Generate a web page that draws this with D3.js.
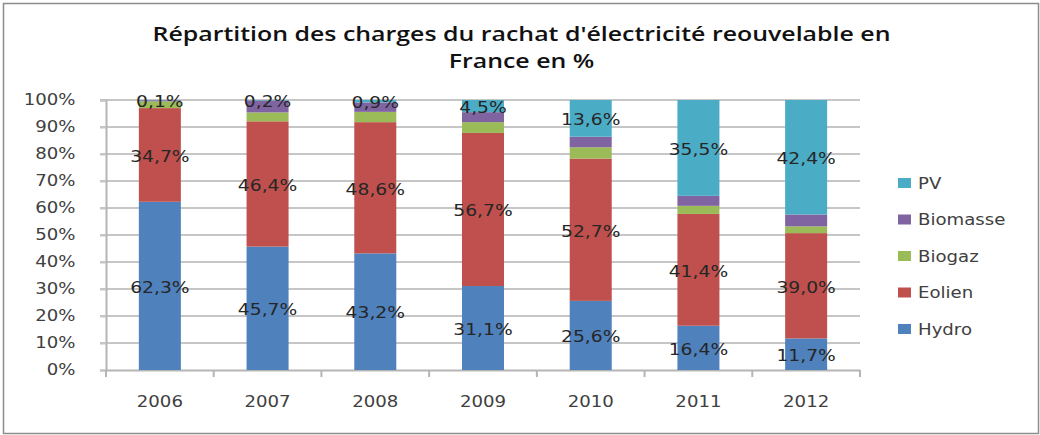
<!DOCTYPE html>
<html>
<head>
<meta charset="utf-8">
<script src="https://cdn.jsdelivr.net/npm/d3@7"></script>
<style>
  body { margin: 0; background: #fff; }
  svg { display: block; }
</style>
</head>
<body>
<div id="chart"></div>
<script>
// data, in % of total charges per year
const years = ['2006', '2007', '2008', '2009', '2010', '2011', '2012'];
const seriesNames = ['Hydro', 'Eolien', 'Biogaz', 'Biomasse', 'PV'];
const hydro    = [62.3, 45.7, 43.2, 31.1, 25.6, 16.4, 11.7];
const eolien   = [34.7, 46.4, 48.6, 56.7, 52.7, 41.4, 39.0];
const biogaz   = [2.5, 3.3, 3.8, 4.0, 4.2, 3.0, 2.5];
const biomasse = [0.4, 4.4, 3.5, 3.7, 3.9, 3.7, 4.4];
const pv       = [0.1, 0.2, 0.9, 4.5, 13.6, 35.5, 42.4];
const yTicks = [0, 10, 20, 30, 40, 50, 60, 70, 80, 90, 100];
// only these series carry a value label
const labelled = ['Hydro', 'Eolien', 'PV'];

const colors = {
  Hydro: '#4f81bd',
  Eolien: '#c0504d',
  Biogaz: '#9bbb59',
  Biomasse: '#8064a2',
  PV: '#4bacc6'
};

const width = 1040, height = 435;
const plot = { left: 106, right: 860, top: 100, bottom: 370 };
const textFont = "'DejaVu Sans', Verdana, sans-serif";
const stretch = 1.17; // the source text is a bit wider than the font

const svg = d3.select('#chart').append('svg')
  .attr('width', width)
  .attr('height', height)
  .attr('viewBox', `0 0 ${width} ${height}`);

// outer frame
svg.append('rect')
  .attr('x', 3.5).attr('y', 3.5)
  .attr('width', 1035).attr('height', 430)
  .attr('fill', '#fff')
  .attr('stroke', '#8c8c8c')
  .attr('stroke-width', 1.5);

// title
const titleLines = ["Répartition des charges du rachat d'électricité reouvelable en", 'France en %'];
const titleTexts = svg.append('g').selectAll('text')
  .data(titleLines)
  .join('text')
  .attr('text-anchor', 'middle')
  .attr('font-family', "'Open Sans', 'Liberation Sans', sans-serif")
  .attr('font-weight', 600)
  .attr('font-size', '20px')
  .attr('fill', '#111')
  .text(d => d);
const natural = titleTexts.node().getComputedTextLength();
const titleScale = 738 / natural;
titleTexts.attr('transform', (d, i) => `translate(521.5, ${41 + i * 27}) scale(${titleScale}, 1)`);

// rows for stacking
const rows = years.map((y, i) => ({
  year: y,
  Hydro: hydro[i],
  Eolien: eolien[i],
  Biogaz: biogaz[i],
  Biomasse: biomasse[i],
  PV: pv[i]
}));
const stacked = d3.stack().keys(seriesNames)(rows);

const x = d3.scaleBand()
  .domain(years)
  .range([plot.left, plot.right])
  .paddingInner(0.61)
  .paddingOuter(0.305);

const y = d3.scaleLinear()
  .domain([0, 100])
  .range([plot.bottom, plot.top]);

// grid lines
svg.append('g')
  .selectAll('line')
  .data(yTicks.filter(d => d > 0))
  .join('line')
  .attr('x1', plot.left - 6)
  .attr('x2', plot.right)
  .attr('y1', d => y(d))
  .attr('y2', d => y(d))
  .attr('stroke', '#c6c6c6')
  .attr('stroke-width', 2);

// y axis
const yAxis = svg.append('g')
  .attr('transform', `translate(${plot.left}, 0)`)
  .call(d3.axisLeft(y).tickValues(yTicks).tickFormat(d => d + '%').tickSize(6).tickPadding(20));
yAxis.select('.domain').attr('stroke', '#b5b5b5').attr('stroke-width', 2);
yAxis.selectAll('.tick line').attr('stroke', '#c6c6c6').attr('stroke-width', 2);
yAxis.selectAll('.tick text')
  .attr('font-family', textFont)
  .attr('font-size', '15.5px')
  .attr('fill', '#404040')
  .attr('transform', `scale(${stretch}, 1)`);

// x axis
const xAxis = svg.append('g')
  .attr('transform', `translate(0, ${plot.bottom})`)
  .call(d3.axisBottom(x).tickSize(0).tickPadding(26));
xAxis.select('.domain').attr('stroke', '#b5b5b5').attr('stroke-width', 2);
xAxis.selectAll('.tick text')
  .attr('font-family', textFont)
  .attr('font-size', '15.5px')
  .attr('fill', '#404040')
  .attr('transform', `scale(${stretch}, 1)`);

// category boundary ticks
const step = x.step();
const bounds = d3.range(years.length + 1).map(i => plot.left + i * step);
xAxis.selectAll('.bound')
  .data(bounds)
  .join('line')
  .attr('class', 'bound')
  .attr('x1', d => d).attr('x2', d => d)
  .attr('y1', 0).attr('y2', 7)
  .attr('stroke', '#b5b5b5')
  .attr('stroke-width', 2);

// bars
const layers = svg.append('g')
  .selectAll('g')
  .data(stacked)
  .join('g')
  .attr('fill', d => colors[d.key]);

layers.selectAll('rect')
  .data(d => d.map(v => ({ key: d.key, year: v.data.year, y0: v[0], y1: v[1] })))
  .join('rect')
  .attr('x', d => x(d.year))
  .attr('width', x.bandwidth())
  .attr('y', d => y(d.y1))
  .attr('height', d => y(d.y0) - y(d.y1));

// value labels
const labelData = stacked
  .filter(s => labelled.includes(s.key))
  .flatMap(s => s.map(v => ({ key: s.key, year: v.data.year, y0: v[0], y1: v[1], value: v.data[s.key] })));

svg.append('g')
  .selectAll('text')
  .data(labelData)
  .join('text')
  .attr('text-anchor', 'middle')
  .attr('dy', '0.36em')
  .attr('font-family', textFont)
  .attr('font-size', '16px')
  .attr('fill', '#262626')
  .attr('transform', d => `translate(${x(d.year) + x.bandwidth() / 2}, ${y((d.y0 + d.y1) / 2) + 1}) scale(${stretch}, 1)`)
  .text(d => d.value.toFixed(1).replace('.', ',') + '%');

// legend, top item is PV
const legendItems = seriesNames.slice().reverse();
const legend = svg.append('g')
  .selectAll('g')
  .data(legendItems)
  .join('g')
  .attr('transform', (d, i) => `translate(898, ${183 + i * 36.5})`);

legend.append('rect')
  .attr('x', 0).attr('y', -5)
  .attr('width', 13).attr('height', 10)
  .attr('fill', d => colors[d]);

legend.append('text')
  .attr('dy', '0.36em')
  .attr('font-family', textFont)
  .attr('font-size', '15.5px')
  .attr('fill', '#404040')
  .attr('transform', `translate(20, 0) scale(${stretch}, 1)`)
  .text(d => d);
</script>
</body>
</html>
